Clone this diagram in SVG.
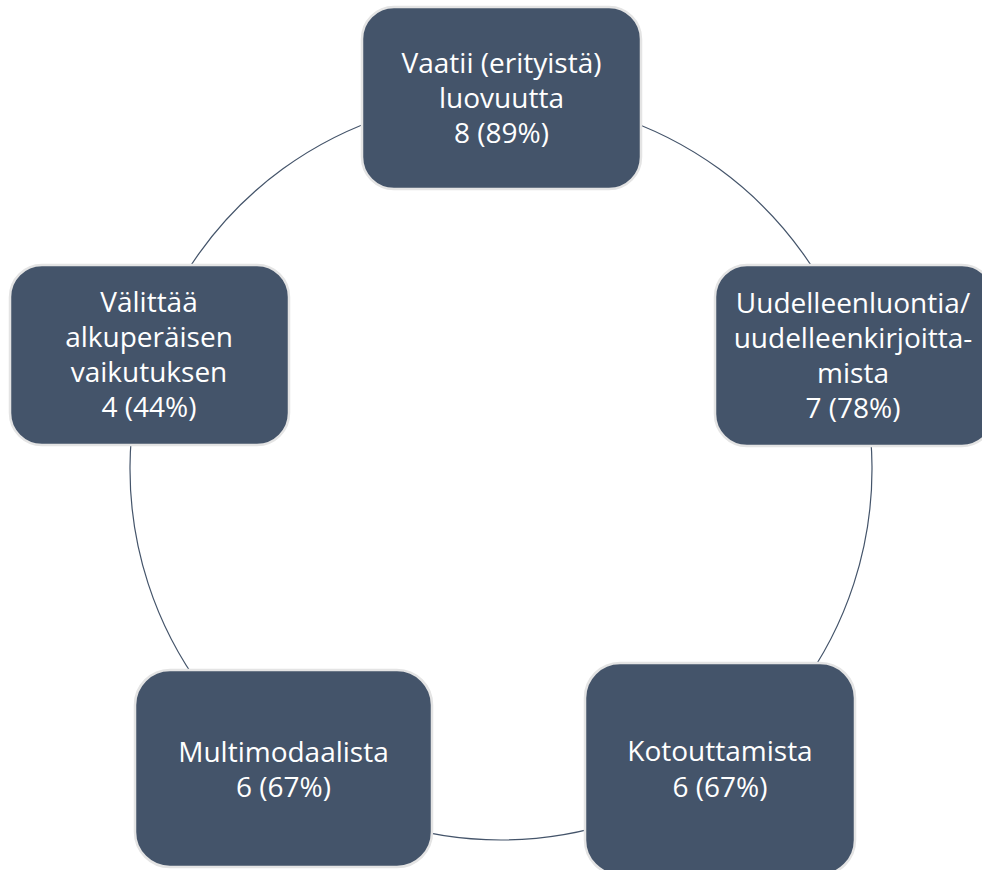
<svg xmlns="http://www.w3.org/2000/svg" width="982" height="870" viewBox="0 0 982 870">
<style>
.box{fill:#44546A;stroke:#E4E4E4;stroke-width:2.5}
.lbl{fill:#FFFFFF;font-family:"Open Sans","Noto Sans","Liberation Sans",sans-serif;font-size:28px;text-anchor:middle}
.arc{fill:none;stroke:#44546A;stroke-width:1.2}
</style>
<rect width="982" height="870" fill="#FFFFFF"/>
<g id="connectors">
<path class="arc" d="M501,98 A371,371 0 0 1 853.84,354.35"/>
<path class="arc" d="M853.84,354.35 A371,371 0 0 1 719.07,769.15"/>
<path class="arc" d="M719.07,769.15 A371,371 0 0 1 282.93,769.15"/>
<path class="arc" d="M282.93,769.15 A371,371 0 0 1 148.16,354.35"/>
<path class="arc" d="M148.16,354.35 A371,371 0 0 1 501,98"/>
</g>
<g id="node-top">
<rect class="box" x="362" y="7" width="279" height="182" rx="32"/>
<text class="lbl" x="501.5"><tspan x="501.5" y="73">Vaatii (erityistä)</tspan><tspan x="501.5" y="108">luovuutta</tspan><tspan x="501.5" y="143">8 (89%)</tspan></text>
</g>
<g id="node-right">
<rect class="box" x="715" y="265" width="279" height="181" rx="32"/>
<text class="lbl"><tspan x="853" y="313">Uudelleenluontia/</tspan><tspan x="853" y="348">uudelleenkirjoitta-</tspan><tspan x="853" y="383">mista</tspan><tspan x="853" y="418">7 (78%)</tspan></text>
</g>
<g id="node-bottom-right">
<rect class="box" x="585" y="663" width="270" height="212" rx="35"/>
<text class="lbl"><tspan x="720" y="761">Kotouttamista</tspan><tspan x="720" y="797">6 (67%)</tspan></text>
</g>
<g id="node-bottom-left">
<rect class="box" x="135" y="670" width="297" height="197" rx="35"/>
<text class="lbl"><tspan x="283.5" y="762">Multimodaalista</tspan><tspan x="283.5" y="797">6 (67%)</tspan></text>
</g>
<g id="node-left">
<rect class="box" x="10" y="265" width="279" height="180" rx="32"/>
<text class="lbl"><tspan x="149" y="312">Välittää</tspan><tspan x="149" y="347">alkuperäisen</tspan><tspan x="149" y="382">vaikutuksen</tspan><tspan x="149" y="417">4 (44%)</tspan></text>
</g>
</svg>
